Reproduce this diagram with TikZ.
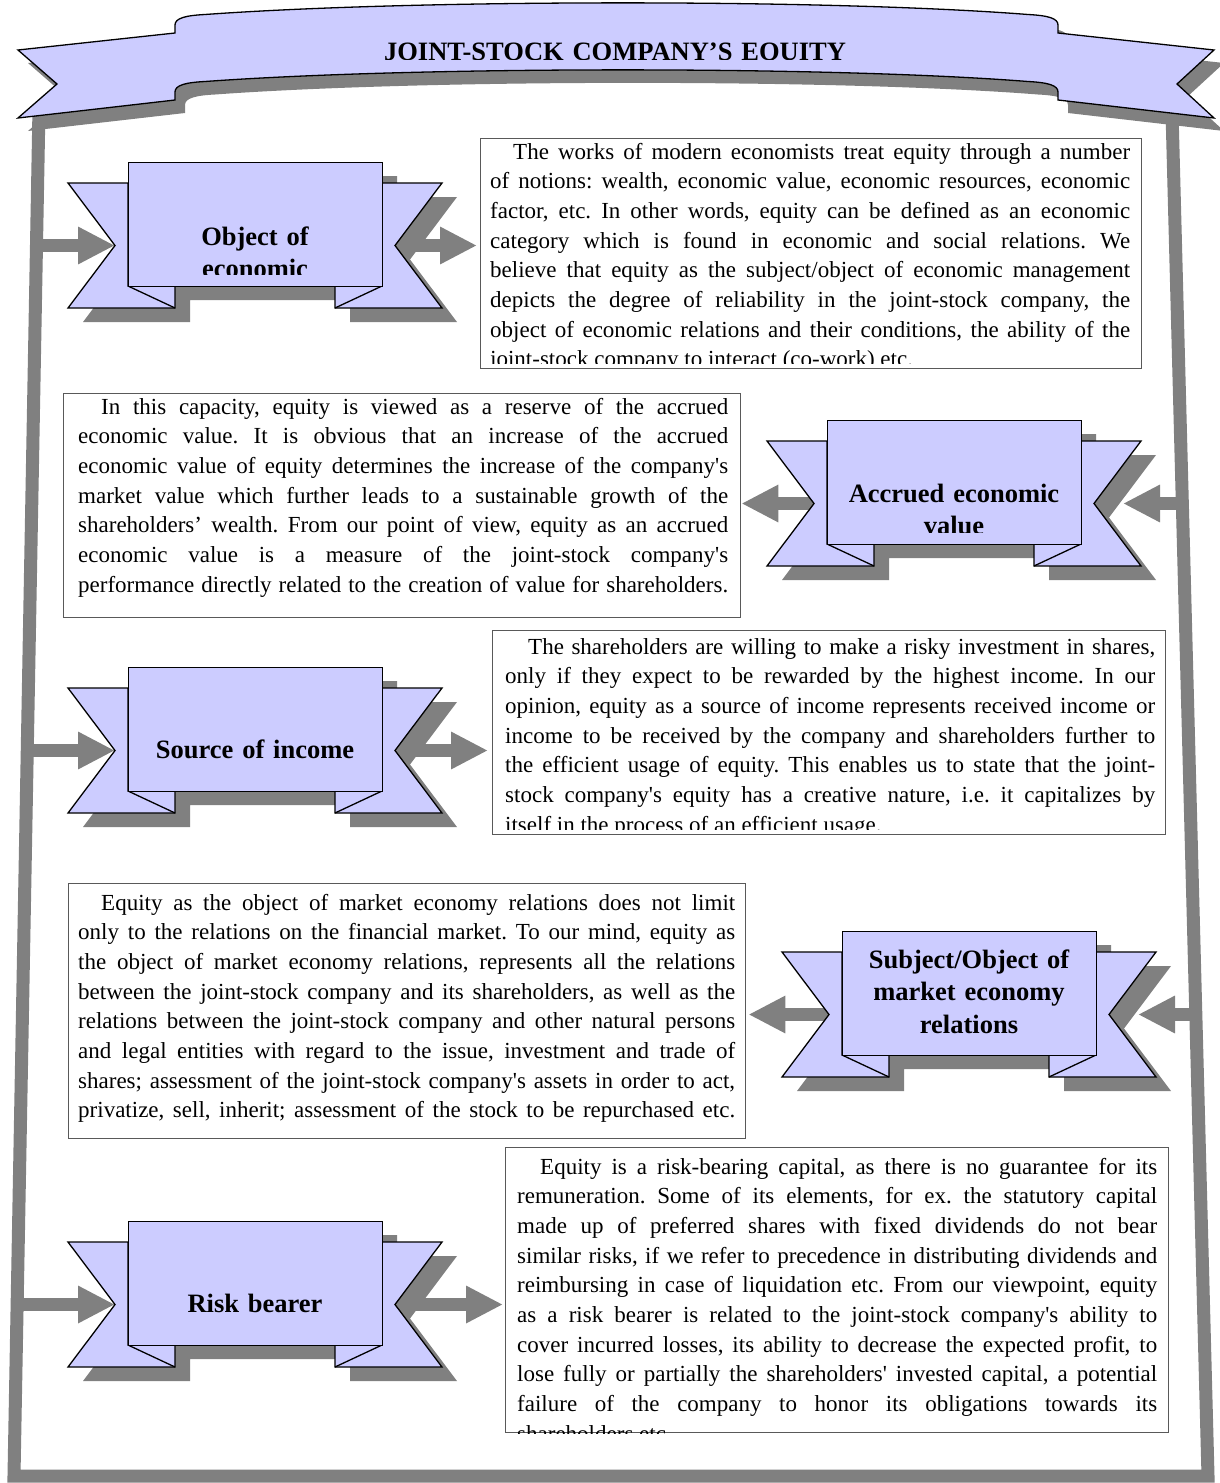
\documentclass[tikz,border=0pt]{standalone}
\usepackage{fontspec}
\setmainfont{Liberation Serif}
\usetikzlibrary{arrows.meta,backgrounds,shadows}
\definecolor{lavender}{RGB}{204,204,255}
\definecolor{shadowgray}{RGB}{128,128,128}
\hyphenpenalty=10000
\newcommand{\aps}{\textquotesingle}
\tikzset{
    %Frame round the whole chart
    frameline/.style={draw=shadowgray, line width=13pt, line join=miter},
    %Ribbons
    band/.style={fill=lavender, draw=black, line width=1.3pt, line join=miter},
    dropshade/.style={fill=shadowgray},
    panel/.style={rectangle, band, minimum width=254pt, minimum height=124pt, inner sep=0pt},
    headtext/.style={inner sep=0pt, anchor=base, text width=250pt, align=center,
           font=\bfseries\fontsize{26.5}{32.5}\selectfont},
    %Text boxes
    textbox/.style={rectangle, draw=black!65, line width=1.4pt, fill=white, inner sep=0pt},
    bodytext/.style={inner sep=0pt, anchor=base west, align=justify,
           font=\fontsize{23}{29.7}\selectfont\frenchspacing},
    %Block arrows
    pil/.style={draw=shadowgray, line width=13pt,
           -{Triangle[length=37pt,width=35pt]}},
}
% ribbon: name, top left corner of front panel, first baseline, text
\newcommand{\ribbon}[4]{%
  \begin{scope}[shift={#2}]
    \fill[dropshade] (15,14) -- (269,14) -- (269,35) -- (329,35) -- (282,97.5) -- (329,160)
       -- (222,160) -- (222,138) -- (62,138) -- (62,160) -- (-45,160) -- (2,97.5)
       -- (-45,35) -- (15,35) -- cycle;
    \filldraw[band] (0,21) -- (-60,21) -- (-13,83.5) -- (-60,146) -- (47,146) -- (47,124) -- (0,124) -- cycle;
    \filldraw[band] (254,21) -- (314,21) -- (267,83.5) -- (314,146) -- (207,146) -- (207,124) -- (254,124) -- cycle;
    \draw[band, fill=none] (0,124) -- (47,146) (254,124) -- (207,146);
    \node[panel, anchor=north west] (#1) at (0,0) {};
    \coordinate (#1-w) at (-13,83.5);
    \coordinate (#1-e) at (267,83.5);
    \begin{scope}
      \clip (0,0) rectangle (254,112);
      \node[headtext] at (127,#3) {#4};
    \end{scope}
  \end{scope}}

\begin{document}
\begin{tikzpicture}[x=1pt,y=-1pt]
\useasboundingbox (0,0) rectangle (1219,1483);

% title banner
\filldraw[band, drop shadow={shadow xshift=10pt, shadow yshift=-13pt, fill=shadowgray, opacity=1}]
  (18,50) -- (175,33) -- (175,25) .. controls (175,18) and (186,15.5) .. (205,14.5)
  .. controls (420,-1) and (830,-1) .. (1028,14.5)
  .. controls (1047,15.5) and (1058,18) .. (1058,25)
  -- (1058,33) -- (1214,50) -- (1177,84) -- (1214,118) -- (1058,100) -- (1058,92)
  .. controls (1058,85) and (1047,82.5) .. (1028,81.5)
  .. controls (830,66) and (420,66) .. (205,81.5)
  .. controls (186,82.5) and (175,85) .. (175,92)
  -- (175,100) -- (18,118) -- (57,84) -- cycle;
\begin{scope}
  \clip (0,0) rectangle (1219,59.5);
  \node[headtext, text width=700pt] (title) at (615,60) {JOINT-STOCK COMPANY’S EQUITY};
\end{scope}

% ribbons
\ribbon{r1}{(128,162)}{83}{Object of\\economic}
\ribbon{r2}{(827,420)}{82}{Accrued economic\\value}
\ribbon{r3}{(128,667)}{91}{Source of income}
\ribbon{r4}{(842,931)}{37}{Subject/Object of\\market economy\\relations}
\ribbon{r5}{(128,1221)}{91}{Risk bearer}

% text boxes
\node[textbox, anchor=north west, minimum width=661pt, minimum height=230pt] (t1) at (480,138) {};
\begin{scope}
  \clip (t1.north west) rectangle ([yshift=6pt]t1.south east);
  \node[bodytext, text width=640pt] at (490,159) {\hspace*{23pt}The works of modern economists treat equity through a number\linebreak
  of notions: wealth, economic value, economic resources, economic\linebreak
  factor, etc. In other words, equity can be defined as an economic\linebreak
  category which is found in economic and social relations. We\linebreak
  believe that equity as the subject/object of economic management\linebreak
  depicts the degree of reliability in the joint-stock company, the\linebreak
  object of economic relations and their conditions, the ability of the\linebreak
  joint-stock company to interact (co-work) etc.};
\end{scope}

\node[textbox, anchor=north west, minimum width=677pt, minimum height=224pt] (t2) at (63,393) {};
\begin{scope}
  \clip (t2.north west) rectangle (t2.south east);
  \node[bodytext, text width=650pt] at (78,414) {\hspace*{23pt}In this capacity, equity is viewed as a reserve of the accrued\linebreak
  economic value. It is obvious that an increase of the accrued\linebreak
  economic value of equity determines the increase of the company\aps s\linebreak
  market value which further leads to a sustainable growth of the\linebreak
  shareholders’ wealth. From our point of view, equity as an accrued\linebreak
  economic value is a measure of the joint-stock company\aps s\linebreak
  performance directly related to the creation of value for shareholders.\linebreak};
\end{scope}

\node[textbox, anchor=north west, minimum width=673pt, minimum height=204pt] (t3) at (492,630) {};
\begin{scope}
  \clip (t3.north west) rectangle ([yshift=6pt]t3.south east);
  \node[bodytext, text width=650pt] at (505,654) {\hspace*{23pt}The shareholders are willing to make a risky investment in shares,\linebreak
  only if they expect to be rewarded by the highest income. In our\linebreak
  opinion, equity as a source of income represents received income or\linebreak
  income to be received by the company and shareholders further to\linebreak
  the efficient usage of equity. This enables us to state that the joint-\linebreak
  stock company\aps s equity has a creative nature, i.e. it capitalizes by\linebreak
  itself in the process of an efficient usage.};
\end{scope}

\node[textbox, anchor=north west, minimum width=677pt, minimum height=255pt] (t4) at (68,883) {};
\begin{scope}
  \clip (t4.north west) rectangle (t4.south east);
  \node[bodytext, text width=657pt] at (78,910) {\hspace*{23pt}Equity as the object of market economy relations does not limit\linebreak
  only to the relations on the financial market. To our mind, equity as\linebreak
  the object of market economy relations, represents all the relations\linebreak
  between the joint-stock company and its shareholders, as well as the\linebreak
  relations between the joint-stock company and other natural persons\linebreak
  and legal entities with regard to the issue, investment and trade of\linebreak
  shares; assessment of the joint-stock company\aps s assets in order to act,\linebreak
  privatize, sell, inherit; assessment of the stock to be repurchased etc.\linebreak};
\end{scope}

\node[textbox, anchor=north west, minimum width=663pt, minimum height=285pt] (t5) at (505,1147) {};
\begin{scope}
  \clip (t5.north west) rectangle (t5.south east);
  \node[bodytext, text width=640pt] at (517,1174) {\hspace*{23pt}Equity is a risk-bearing capital, as there is no guarantee for its\linebreak
  remuneration. Some of its elements, for ex. the statutory capital\linebreak
  made up of preferred shares with fixed dividends do not bear\linebreak
  similar risks, if we refer to precedence in distributing dividends and\linebreak
  reimbursing in case of liquidation etc. From our viewpoint, equity\linebreak
  as a risk bearer is related to the joint-stock company\aps s ability to\linebreak
  cover incurred losses, its ability to decrease the expected profit, to\linebreak
  lose fully or partially the shareholders\aps\ invested capital, a potential\linebreak
  failure of the company to honor its obligations towards its\linebreak
  shareholders etc.};
\end{scope}

% frame and arrows behind everything
\begin{scope}[on background layer]
  \draw[frameline] (39,108) -- (14,1476) -- (1208,1476) -- (1172,112);
  \coordinate (f1) at (36.5,245.5);
  \coordinate (f2) at (1182,503.5);
  \coordinate (f3) at (27.5,750.5);
  \coordinate (f4) at (1196,1014.5);
  \coordinate (f5) at (17.5,1304.5);
  \draw[pil] (f1) -- (r1-w);
  \draw[pil, shorten >=3pt] (r1-e) -- (r1-e -| t1.west);
  \draw[pil, shorten >=29pt] (f2) -- (r2-e);
  \draw[pil] (r2-w) -- (r2-w -| t2.east);
  \draw[pil] (f3) -- (r3-w);
  \draw[pil, shorten >=4pt] (r3-e) -- (r3-e -| t3.west);
  \draw[pil, shorten >=29pt] (f4) -- (r4-e);
  \draw[pil, shorten >=2pt] (r4-w) -- (r4-w -| t4.east);
  \draw[pil] (f5) -- (r5-w);
  \draw[pil, shorten >=2pt] (r5-e) -- (r5-e -| t5.west);
\end{scope}
\end{tikzpicture}
\end{document}
